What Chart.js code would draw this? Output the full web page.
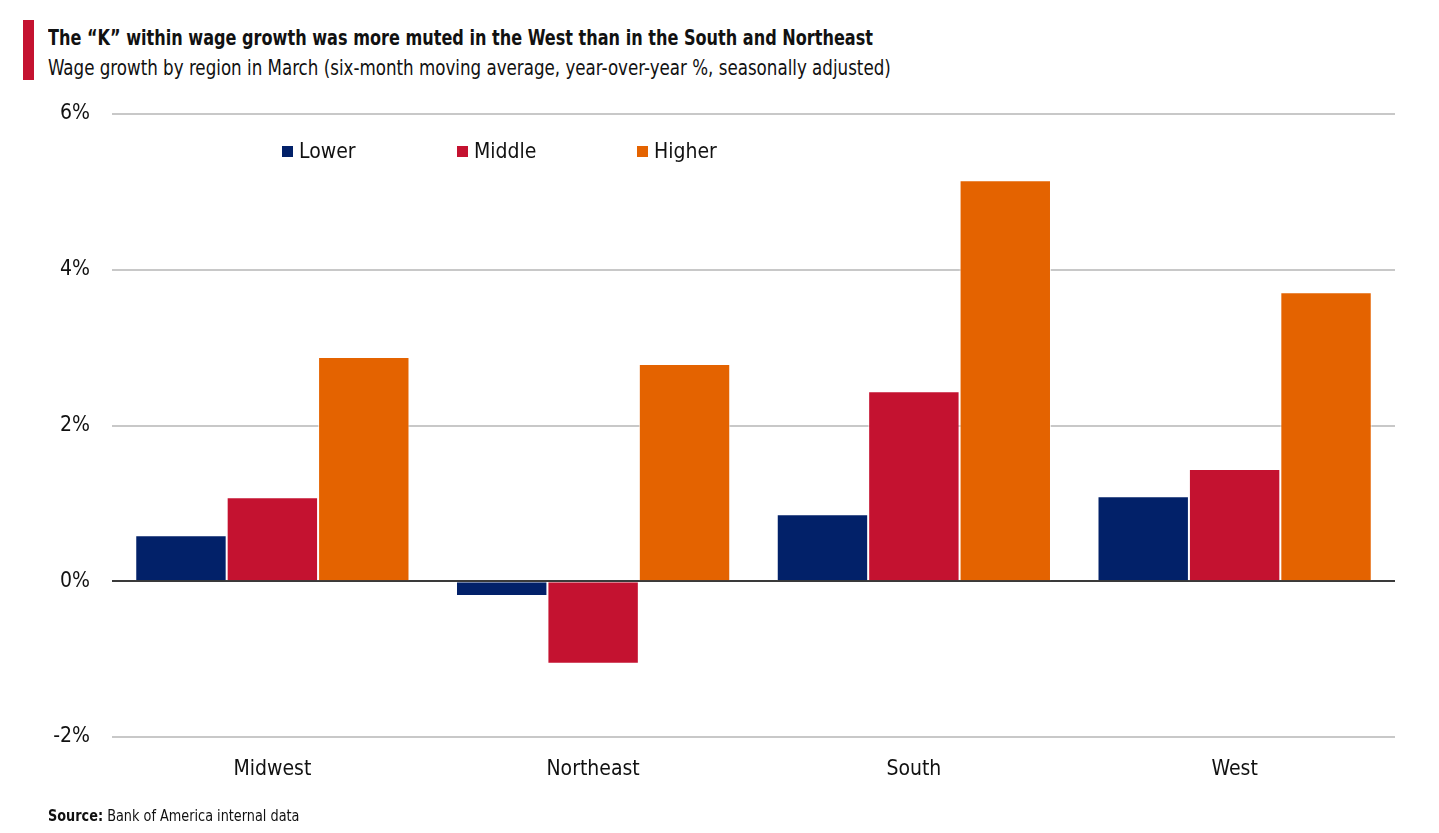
<!DOCTYPE html>
<html>
<head>
<meta charset="utf-8">
<script src="https://cdn.jsdelivr.net/npm/chart.js@4.4.1/dist/chart.umd.min.js"></script>
<style>
    html, body { margin: 0; padding: 0; background: #fff; }
    body { width: 1439px; height: 833px; position: relative; overflow: hidden;
           font-family: "Liberation Sans Narrow", "DejaVu Sans Condensed", sans-serif; color: #111; }
    #accent { position: absolute; left: 23px; top: 20px; width: 11px; height: 60px; background: #C41230; }
    .narrow { transform-origin: left center; }
    #title { position: absolute; left: 48px; top: 26px; font-size: 21px; font-weight: bold; white-space: nowrap; transform: scaleX(0.852); }
    #subtitle { position: absolute; left: 48px; top: 56px; font-size: 21px; white-space: nowrap; transform: scaleX(0.884); }
    #source { position: absolute; left: 48px; top: 806px; font-size: 16px; white-space: nowrap; transform: scaleX(0.893); }
    #legend { position: absolute; top: 139px; left: 0; font-size: 21px; }
    .lg { position: absolute; white-space: nowrap; }
    .lg i { display: inline-block; width: 11px; height: 11px; margin-right: 6px; vertical-align: 1px; }
    #wrap { position: absolute; left: 0; top: 0; width: 1439px; height: 833px; }
</style>
</head>
<body>
<div id="accent"></div>
<div id="title" class="narrow">The “K” within wage growth was more muted in the West than in the South and Northeast</div>
<div id="subtitle" class="narrow">Wage growth by region in March (six-month moving average, year-over-year %, seasonally adjusted)</div>
<div id="wrap"><canvas id="wage_chart"></canvas></div>
<div id="legend"></div>
<div id="source" class="narrow"><b>Source:</b> Bank of America internal data</div>
<script>
    const regions = ["Midwest", "Northeast", "South", "West"];
    const series_names = ["Lower", "Middle", "Higher"];
    const lower_values = [0.59, -0.19, 0.86, 1.09];
    const middle_values = [1.08, -1.06, 2.44, 1.44];
    const higher_values = [2.88, 2.79, 5.15, 3.71];
    const y_ticks = [-2, 0, 2, 4, 6];

    const series_colors = ["#022169", "#C41230", "#E46300"];
    const legend_x = [282, 457, 637];
    const chart_font = "'Liberation Sans Narrow', 'DejaVu Sans Condensed', sans-serif";

    const all_values = [lower_values, middle_values, higher_values];

    // html legend sits inside the plot area like the original
    let legendBox = document.getElementById("legend");
    series_names.forEach((name, i) => {
        let item = document.createElement("span");
        item.className = "lg";
        item.style.left = legend_x[i] + "px";
        item.innerHTML = `<i style="background:${series_colors[i]}"></i>${name}`;
        legendBox.appendChild(item);
    });

    let chartCanvas = document.getElementById("wage_chart").getContext("2d");
    let chartObject = new Chart(chartCanvas, {
        type: "bar",
        data: {
            labels: regions,
            datasets: series_names.map((name, i) => ({
                label: name,
                data: all_values[i],
                backgroundColor: series_colors[i],
                borderColor: "rgba(255,255,255,0.7)",
                borderWidth: 1,
                categoryPercentage: 0.855,
                barPercentage: 1.0,
            })),
        },
        options: {
            responsive: true,
            maintainAspectRatio: false,
            animation: false,
            layout: { padding: { top: 114, right: 44, bottom: 36, left: 0 } },
            plugins: {
                legend: { display: false },
                tooltip: { enabled: false },
            },
            scales: {
                x: {
                    grid: { display: false },
                    border: { display: false },
                    ticks: {
                        color: "#111",
                        font: { family: chart_font, size: 21 },
                        padding: 12,
                    },
                    afterFit: function(axis) { axis.height = 60; },
                },
                y: {
                    min: -2,
                    max: 6,
                    afterBuildTicks: function(axis) {
                        axis.ticks = y_ticks.map(v => ({ value: v }));
                    },
                    grid: {
                        drawTicks: false,
                        lineWidth: 2,
                        color: function(ctx) {
                            return ctx.tick && ctx.tick.value === 0 ? "#3a3a3a" : "#c8c8c8";
                        },
                    },
                    border: { display: false },
                    ticks: {
                        color: "#111",
                        font: { family: chart_font, size: 21 },
                        padding: 22,
                        callback: function(tick) {
                            return `${tick.toString()}%`;
                        },
                    },
                    afterFit: function(axis) { axis.width = 112; },
                },
            },
        },
    });
</script>
</body>
</html>
